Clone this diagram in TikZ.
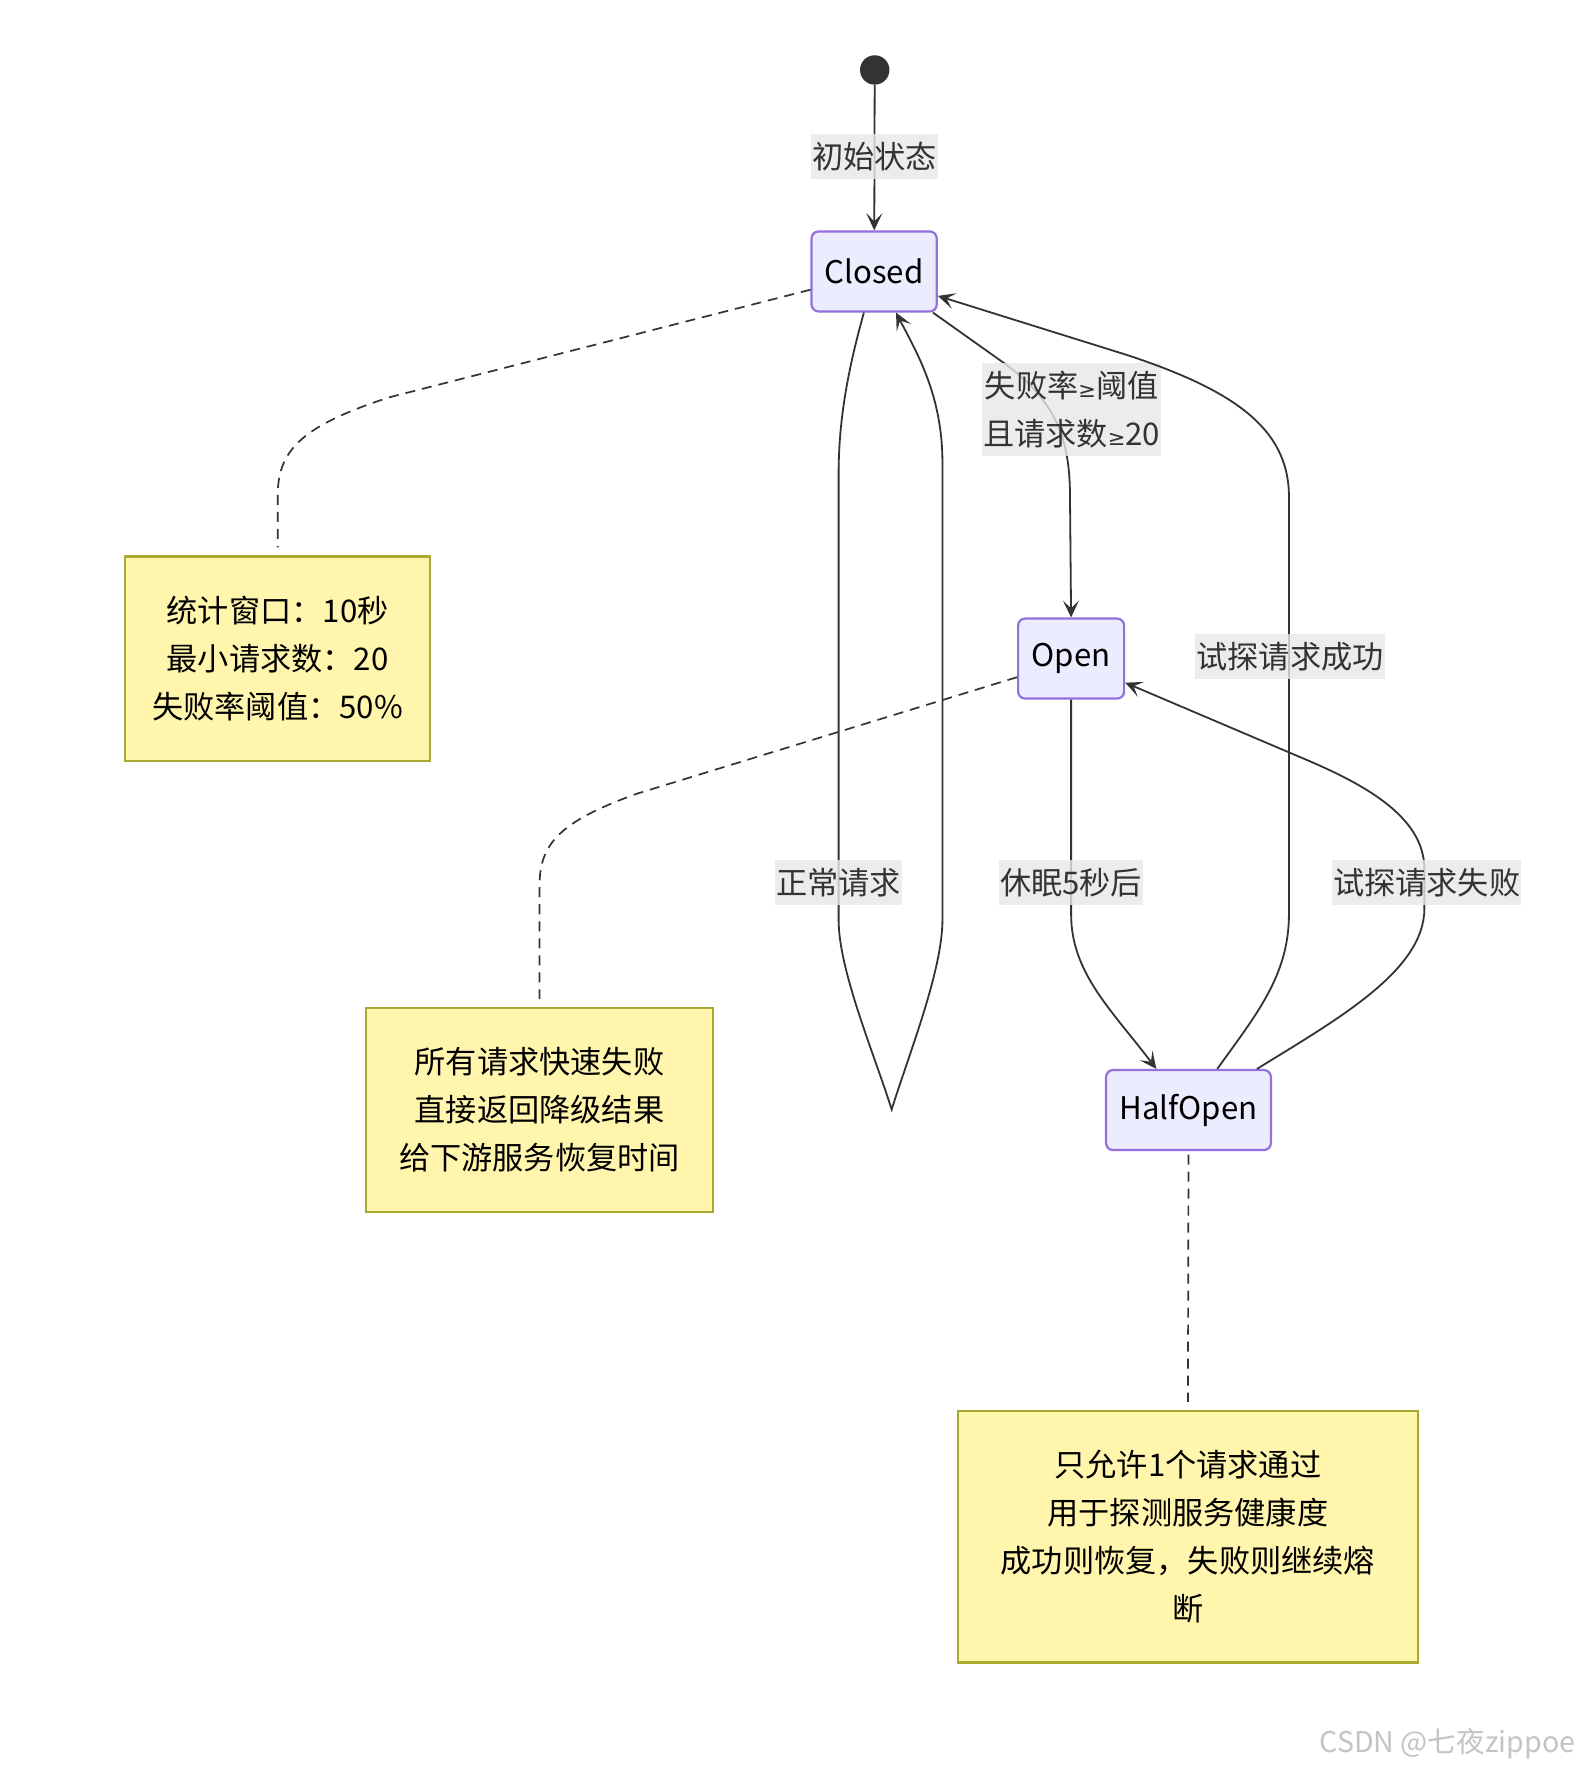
\documentclass[tikz,border=0pt]{standalone}
\usepackage{fontspec}
\setmainfont{Noto Sans CJK SC}
\newfontfamily\symfont{DejaVu Sans}
\usetikzlibrary{arrows.meta,calc}
\definecolor{nodefill}{HTML}{ECECFF}
\definecolor{nodeline}{HTML}{9370DB}
\definecolor{notefill}{HTML}{FFF5AD}
\definecolor{noteline}{HTML}{AAAA33}
\definecolor{edgec}{HTML}{333333}
\definecolor{lblbg}{HTML}{E8E8E8}
\definecolor{wmark}{HTML}{C4C4C4}
\newcommand{\mygeq}{{\symfont\fontsize{10.5pt}{24pt}\selectfont ≥}}
\begin{document}
\begin{tikzpicture}[x=0.5643pt,y=-0.5643pt,
  basefont/.style={font=\fontsize{15.6pt}{24pt}\selectfont},
  state/.style={basefont, draw=nodeline, fill=nodefill, line width=1.1pt, rounded corners=3.5pt,
    minimum height=40pt, inner sep=0pt, text=black},
  note/.style={basefont, draw=noteline, fill=notefill, line width=1.1pt, inner sep=0pt,
    align=center, text=black},
  lbl/.style={basefont, fill=lblbg, fill opacity=0.8, text opacity=1, text=edgec,
    inner xsep=0.5pt, inner ysep=4pt, align=center},
  tr/.style={draw=edgec, line width=0.9pt, -{Stealth[length=8.5pt,width=8pt,inset=4pt]}},
  link/.style={draw=edgec, line width=0.85pt, dash pattern=on 5pt off 3.5pt},
]
\path[use as bounding box, fill=white] (0,0) rectangle (1400,1570);

% states
\node[circle, fill=edgec, minimum size=14.7pt, inner sep=0pt] (start) at (775,62) {};
\node[state, minimum width=62.6pt] (closed) at (774.5,240.5) {Closed};
\node[state, minimum width=53pt] (open) at (949,583.5) {Open};
\node[state, minimum width=82.4pt] (half) at (1053,983.5) {HalfOpen};

% notes
\node[note, minimum width=152.4pt, minimum height=102.1pt] (note1) at (246,583.5)
  {统计窗口：10秒\\最小请求数：20\\失败率阈值：50\%};
\node[note, minimum width=173.8pt, minimum height=102.1pt] (note2) at (478,983.5)
  {所有请求快速失败\\直接返回降级结果\\给下游服务恢复时间};
\node[note, minimum width=229.7pt, minimum height=125.8pt] (note3) at (1052.5,1361.5)
  {只允许1个请求通过\\用于探测服务健康度\\成功则恢复，失败则继续熔\\断};

% note links
\draw[link] (closed.196) -- (345,352) .. controls (265,378) and (246,400) .. (246,440)
  -- ($(note1.north)+(0,-7)$);
\draw[link] (open.199) -- (565,703) .. controls (495,728) and (478,748) .. (478,785)
  -- ($(note2.north)+(0,-7)$);
\draw[link] ($(half.south)+(0,3)$) -- ($(note3.north)+(0,-7)$);

% transitions
\draw[tr] (start) -- (closed) node[lbl, at={(775,139)}] {初始状态};

\draw[tr] (closed.-35) -- (890,322) .. controls (935,355) and (948,388) .. (948,440)
  -- (open.north) node[lbl, at={(949.5,363)}] {失败率\mygeq 阈值\\且请求数\mygeq 20};

\coordinate (apex) at (790,983);
\draw[tr] (closed.256.5) .. controls (752,325) and (743,370) .. (743,420) -- (743,815)
  .. controls (743,860) and (775,935) .. (apex)
  .. controls (805,935) and (835,860) .. (835,815) -- (835,410)
  .. controls (835,350) and (812,312) .. (closed.-62.5)
  node[lbl, at={(743,782)}] {正常请求};

\draw[tr] (open.south) -- (949,810) .. controls (949,862) and (985,895) .. (half.128)
  node[lbl, at={(949,782)}] {休眠5秒后};

\draw[tr] (half.55) .. controls (1112,900) and (1142,865) .. (1142,810) -- (1142,440)
  .. controls (1142,378) and (1090,345) .. (1000,315) -- (closed.-21)
  node[lbl, at={(1143,582)}] {试探请求成功};

\draw[tr] (half.31) .. controls (1185,903) and (1262,860) .. (1262,805) -- (1262,770)
  .. controls (1262,722) and (1205,693) .. (1150,670) -- (open.-24)
  node[lbl, at={(1264,782)}] {试探请求失败};

% watermark
\node[anchor=east, text=wmark, inner sep=0pt, font=\fontsize{14.3pt}{16pt}\selectfont]
  (wm) at (1396,1545) {CSDN @七夜zippoe};
\end{tikzpicture}
\end{document}
